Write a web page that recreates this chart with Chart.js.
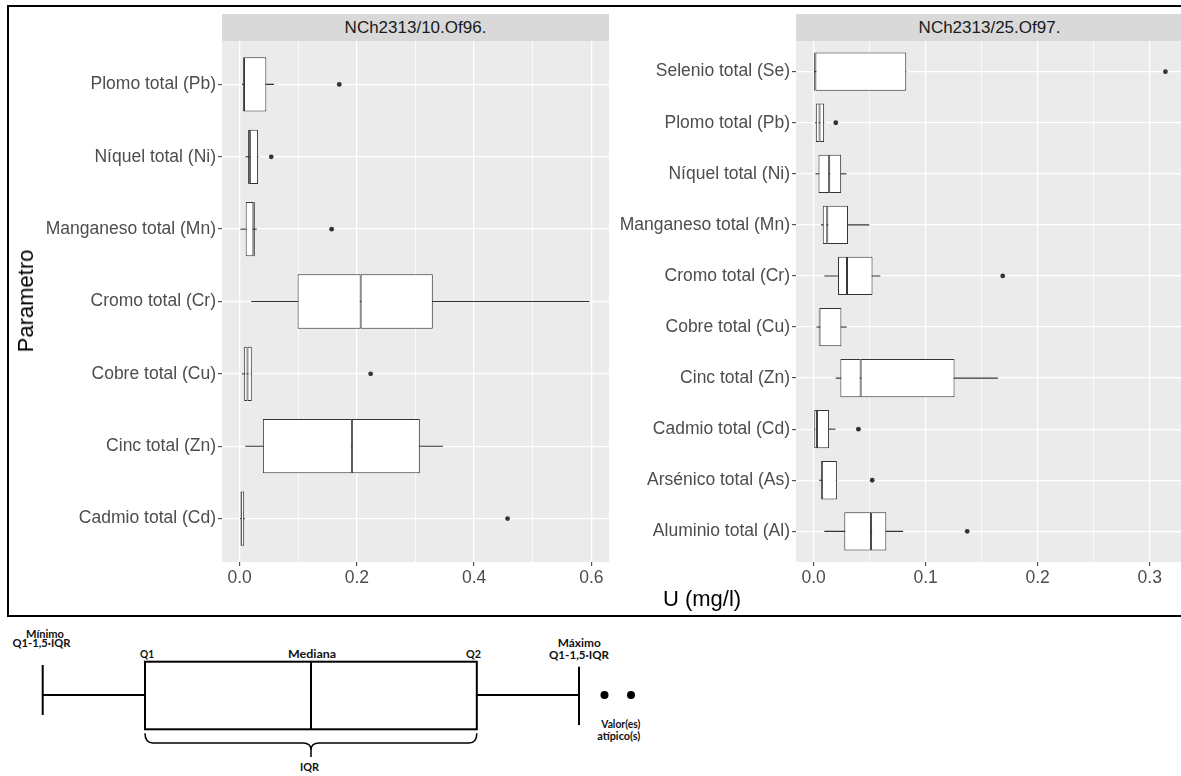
<!DOCTYPE html>
<html><head><meta charset="utf-8">
<script src="https://cdn.jsdelivr.net/npm/chart.js@4/dist/chart.umd.min.js"></script>
<style>
html,body{margin:0;padding:0;background:#fff;}
body{width:1181px;height:776px;overflow:hidden;position:relative;font-family:'Liberation Sans',Arial,sans-serif;}
.abs{position:absolute;}
#frame{left:7px;top:5px;width:1230px;height:612px;border:2px solid #000;box-sizing:border-box;}
.strip{top:14px;height:27px;background:#D9D9D9;color:#1A1A1A;font-size:17px;line-height:28px;text-align:center;white-space:nowrap;overflow:hidden;}
#s1{left:222px;width:387px;}
#s2{left:796px;width:387px;}
#c1{left:0;top:20px;}
#c2{left:580px;top:20px;}
#ytitle{left:26px;top:301px;transform:translate(-50%,-50%) rotate(-90deg);font-size:22px;color:#000;white-space:nowrap;}
#xtitle{left:702px;top:599px;transform:translate(-50%,-50%);font-size:22px;color:#000;white-space:nowrap;}
#key{left:0;top:618px;}
#key text{font-family:Lato,'Open Sans',sans-serif;font-weight:bold;font-size:12px;fill:#111;}
</style></head>
<body>
<div id="frame" class="abs"></div>
<div id="s1" class="abs strip">NCh2313/10.Of96.</div>
<div id="s2" class="abs strip">NCh2313/25.Of97.</div>
<canvas id="c1" class="abs" width="620" height="590"></canvas>
<canvas id="c2" class="abs" width="620" height="590"></canvas>
<div id="ytitle" class="abs">Parametro</div>
<div id="xtitle" class="abs">U (mg/l)</div>
<svg id="key" class="abs" width="700" height="158" viewBox="0 0 700 158">
  <g stroke="#000" stroke-width="2" fill="none">
    <line x1="42.7" y1="47" x2="42.7" y2="97"/>
    <line x1="42.7" y1="77" x2="145" y2="77"/>
    <rect x="145" y="43.7" width="331.8" height="67.6"/>
    <line x1="311" y1="43.7" x2="311" y2="111.3"/>
    <line x1="476.8" y1="77" x2="579" y2="77"/>
    <line x1="579" y1="48.7" x2="579" y2="107"/>
  </g>
  <path d="M145,115.3 Q145,125 153,125 L303,125 Q311,125 311,132 L311,139 M311,132 Q311,125 319,125 L469,125 Q476.8,125 476.8,115.3" stroke="#000" stroke-width="1.5" fill="none"/>
  <circle cx="604.5" cy="77" r="4" fill="#000"/>
  <circle cx="631" cy="77" r="4" fill="#000"/>
  <text x="45" y="19.5" text-anchor="middle" textLength="38" lengthAdjust="spacingAndGlyphs">Mínimo</text>
  <text x="41.5" y="29" text-anchor="middle" textLength="58" lengthAdjust="spacingAndGlyphs">Q1-1,5·IQR</text>
  <text x="147" y="39.5" text-anchor="middle" textLength="14" lengthAdjust="spacingAndGlyphs">Q1</text>
  <text x="312" y="39.5" text-anchor="middle" textLength="48" lengthAdjust="spacingAndGlyphs">Mediana</text>
  <text x="473.5" y="39.5" text-anchor="middle" textLength="15" lengthAdjust="spacingAndGlyphs">Q2</text>
  <text x="579.3" y="29" text-anchor="middle" textLength="43" lengthAdjust="spacingAndGlyphs">Máximo</text>
  <text x="579" y="41" text-anchor="middle" textLength="60" lengthAdjust="spacingAndGlyphs">Q1-1,5·IQR</text>
  <text x="620.8" y="110" text-anchor="middle" textLength="39" lengthAdjust="spacingAndGlyphs">Valor(es)</text>
  <text x="618.8" y="121.5" text-anchor="middle" textLength="43" lengthAdjust="spacingAndGlyphs">atípico(s)</text>
  <text x="309.5" y="153" text-anchor="middle" textLength="19" lengthAdjust="spacingAndGlyphs">IQR</text>
</svg>
<script>
// ---- Panel 1: NCh2313/10.Of96. ----
const leftCategories = ['Plomo total (Pb)','Níquel total (Ni)','Manganeso total (Mn)','Cromo total (Cr)','Cobre total (Cu)','Cinc total (Zn)','Cadmio total (Cd)'];
const leftMin    = [0.004, 0.0099, 0.0014, 0.020, 0.004, 0.0097, 0.0];
const leftQ1     = [0.006, 0.0145, 0.0104, 0.099, 0.0078, 0.0397, 0.0014];
const leftMedian = [0.0075, 0.0175, 0.0235, 0.2065, 0.0135, 0.1915, 0.0022];
const leftQ3     = [0.0456, 0.0315, 0.026, 0.3295, 0.0208, 0.3074, 0.0078];
const leftMax    = [0.0587, 0.0320, 0.0293, 0.5966, 0.021, 0.347, 0.009];
const leftOutlierCategories = ['Plomo total (Pb)','Níquel total (Ni)','Manganeso total (Mn)','Cobre total (Cu)','Cadmio total (Cd)'];
const leftOutlierValues = [0.170, 0.054, 0.157, 0.2235, 0.457];
const leftTicks = [0, 0.1, 0.2, 0.3, 0.4, 0.5, 0.6];
const leftTickLabels = ['0.0', '', '0.2', '', '0.4', '', '0.6'];

// ---- Panel 2: NCh2313/25.Of97. ----
const rightCategories = ['Selenio total (Se)','Plomo total (Pb)','Níquel total (Ni)','Manganeso total (Mn)','Cromo total (Cr)','Cobre total (Cu)','Cinc total (Zn)','Cadmio total (Cd)','Arsénico total (As)','Aluminio total (Al)'];
const rightMin    = [0.0005, 0.0013, 0.0017, 0.0066, 0.0096, 0.0026, 0.0198, 0.0, 0.0049, 0.0096];
const rightQ1     = [0.0005, 0.0020, 0.0044, 0.0082, 0.0218, 0.0046, 0.0239, 0.0006, 0.0066, 0.0274];
const rightMedian = [0.0016, 0.0053, 0.0139, 0.0122, 0.0298, 0.0053, 0.0420, 0.0030, 0.0074, 0.0513];
const rightQ3     = [0.0827, 0.0094, 0.0246, 0.0307, 0.0526, 0.0248, 0.1258, 0.0138, 0.0208, 0.0649];
const rightMax    = [0.0827, 0.0095, 0.0294, 0.0497, 0.0596, 0.0295, 0.1645, 0.0195, 0.0210, 0.0798];
const rightOutlierCategories = ['Selenio total (Se)','Plomo total (Pb)','Cromo total (Cr)','Cadmio total (Cd)','Arsénico total (As)','Aluminio total (Al)'];
const rightOutlierValues = [0.314, 0.0198, 0.1688, 0.040, 0.0523, 0.1371];
const rightTicks = [0, 0.05, 0.1, 0.15, 0.2, 0.25, 0.3];
const rightTickLabels = ['0.0', '', '0.1', '', '0.2', '', '0.3'];

Chart.defaults.font.family = "'Liberation Sans', Arial, sans-serif";

const panelBg = {
  id: 'panelBg',
  beforeDraw(chart) {
    const {ctx, chartArea: a} = chart;
    ctx.save();
    ctx.fillStyle = '#EBEBEB';
    ctx.fillRect(a.left, a.top, a.right - a.left, a.bottom - a.top);
    ctx.restore();
  }
};

function makePanel(id, cats, mins, q1s, meds, q3s, maxs, outCats, outVals, xMin, xMax, ticks, tickLabels, yWidth, padRight) {
  const idx = cats.map((_, i) => i);
  const boxCommon = {
    type: 'bar', grouped: false, categoryPercentage: 1, barPercentage: 0.75,
    backgroundColor: '#FFFFFF', borderColor: '#333333', borderWidth: 1,
    borderSkipped: false, inflateAmount: 0, order: 2
  };
  return new Chart(document.getElementById(id), {
    type: 'bar',
    data: {
      datasets: [
        { type: 'bar', label: 'whisker', data: idx.map(i => ({y: i, x: [mins[i], maxs[i]]})),
          grouped: false, barThickness: 1.1, backgroundColor: '#333333', borderWidth: 0, inflateAmount: 0, order: 3 },
        Object.assign({label: 'q1-median', data: idx.map(i => ({y: i, x: [q1s[i], meds[i]]}))}, boxCommon),
        Object.assign({label: 'median-q3', data: idx.map(i => ({y: i, x: [meds[i], q3s[i]]}))}, boxCommon),
        { type: 'scatter', label: 'outliers', data: outCats.map((c, k) => ({x: outVals[k], y: cats.indexOf(c)})),
          pointRadius: 2.4, pointBackgroundColor: '#333333', pointBorderWidth: 0, showLine: false, order: 1 }
      ]
    },
    options: {
      responsive: false, animation: false, devicePixelRatio: 1, indexAxis: 'y',
      layout: {padding: {top: 21, left: 0, right: padRight, bottom: 0}},
      plugins: {legend: {display: false}, tooltip: {enabled: false}},
      scales: {
        x: {
          type: 'linear', position: 'bottom', min: xMin, max: xMax, offset: false,
          afterBuildTicks: s => { s.ticks = ticks.map(v => ({value: v})); },
          afterFit: s => { s.height = 48; },
          ticks: {autoSkip: false, maxRotation: 0, color: '#4D4D4D', font: {size: 17.5}, padding: 2,
                  callback: (v, i) => tickLabels[i]},
          grid: {offset: false, color: '#FFFFFF', lineWidth: c => tickLabels[c.index] ? 1.3 : 0.8,
                 tickColor: c => tickLabels[c.index] ? '#333333' : 'rgba(0,0,0,0)',
                 tickLength: 4, tickWidth: 1, drawTicks: true},
          border: {display: false}
        },
        y: {
          type: 'linear', reverse: true, min: -0.6, max: cats.length - 1 + 0.6, offset: false,
          afterBuildTicks: s => { s.ticks = idx.map(i => ({value: i})); },
          afterFit: s => { s.width = yWidth; },
          ticks: {autoSkip: false, color: '#4D4D4D', font: {size: 17.5}, padding: 2,
                  callback: (v, i) => cats[i]},
          grid: {offset: false, color: '#FFFFFF', lineWidth: 1.3, tickColor: '#333333', tickLength: 4, tickWidth: 1},
          border: {display: false}
        }
      }
    },
    plugins: [panelBg]
  });
}

makePanel('c1', leftCategories, leftMin, leftQ1, leftMedian, leftQ3, leftMax,
  leftOutlierCategories, leftOutlierValues, -0.03, 0.63, leftTicks, leftTickLabels, 222, 11);
makePanel('c2', rightCategories, rightMin, rightQ1, rightMedian, rightQ3, rightMax,
  rightOutlierCategories, rightOutlierValues, -0.0157, 0.3297, rightTicks, rightTickLabels, 216, 17);
</script>
</body></html>
